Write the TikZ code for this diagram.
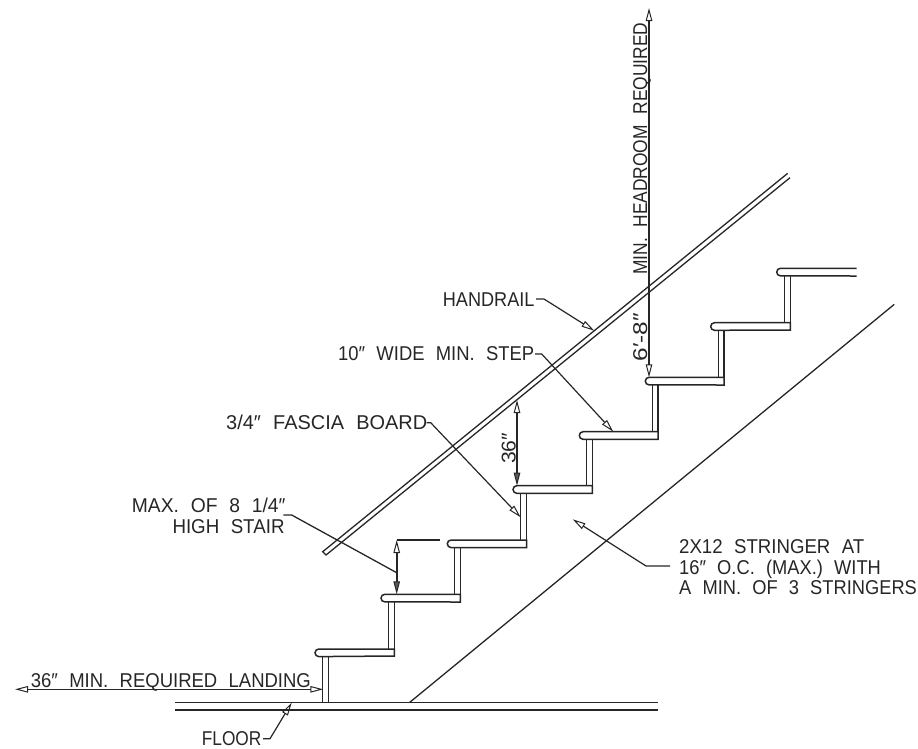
\documentclass[tikz,border=0pt]{standalone}
\usepackage{graphicx}
\usepackage{fontspec}
\setmainfont[WordSpace=2.2]{Liberation Sans}
\usetikzlibrary{arrows.meta}
\newcommand\fitw[2]{\resizebox{#1pt}{\height}{#2}}
% tread: left x, top y, right x, bottom y
\newcommand\tread[4]{\draw[stair] (#3,#2) -- ({#1+3.8},#2) arc[start angle=-90,end angle=-270,radius=3.8] -- (#3,#4) -- cycle;}
% riser: left x, right x, upper y, lower y
\newcommand\riser[4]{\draw[stair] (#1,#3) -- (#1,#4) (#2,#3) -- (#2,#4);}
\tikzset{
  stair/.style={line width=1.5pt,draw=black!85},
  lbl/.style={inner sep=0pt,anchor=base west,font=\fontsize{20}{20}\selectfont,text=black!85},
  leader/.style={line width=1.2pt,draw=black!85,-{Triangle[open,length=13pt,width=6.5pt,line width=1pt]}},
  dimline/.style={line width=1.5pt,draw=black!85,{Triangle[open,length=13pt,width=6.5pt,line width=1pt]}-{Triangle[open,length=13pt,width=6.5pt,line width=1pt]}},
  dimfill/.style={line width=1.6pt,draw=black!85,{Triangle[open,length=13pt,width=6.5pt,line width=1pt]}-{Triangle[length=13pt,width=6.5pt,line width=1pt,fill=black!65]}},
  thin/.style={line width=1.3pt,draw=black!85}
}
\begin{document}
\begin{tikzpicture}[x=1pt,y=-1pt]
\useasboundingbox (0,0) rectangle (918,748);
% floor
\draw[stair] (175,702.7) -- (658,702.7) (175,710) -- (658,710);
% treads
\tread{315}{649}{394.3}{656}
\tread{381}{594.3}{460.3}{602}
\tread{447.3}{540}{526.5}{547.7}
\tread{513}{485.7}{592.3}{493.3}
\tread{579.3}{431.7}{658}{439.3}
\tread{645.3}{377.3}{724}{385}
\tread{710.7}{322.7}{790.3}{330}
\draw[stair] (856.7,268.3) -- (780.5,268.3) arc[start angle=-90,end angle=-270,radius=3.8] -- (856.7,276);
% risers
\riser{322.7}{328.3}{656}{702.7}
\riser{388.7}{394.3}{602}{649}
\riser{454.7}{460.3}{547.7}{594.3}
\riser{520.5}{526.5}{493.3}{540}
\riser{586.7}{592.3}{439.3}{485.7}
\riser{652.3}{658}{385}{431.7}
\riser{718.3}{724}{330}{377.3}
\riser{784.3}{790.3}{276}{322.7}
% handrail
\draw[thin] (787.7,173.3) -- (322.7,551.7) -- (326,555) -- (790,177.7);
% stringer
\draw[thin] (409.3,702.7) -- (894.3,304.3);
% labels
\node[lbl] (landing) at (30.7,687.3) {\fitw{280}{36″ MIN. REQUIRED LANDING}};
\node[lbl] (floor) at (201.7,745.5) {\fitw{59.5}{FLOOR}};
\node[lbl] (maxa) at (131.7,512.7) {\fitw{153.5}{MAX. OF 8 1/4″}};
\node[lbl] (maxb) at (172.3,533.3) {\fitw{112}{HIGH STAIR}};
\node[lbl] (fascia) at (226,429.3) {\fitw{201}{3/4″ FASCIA BOARD}};
\node[lbl] (step) at (338,360.7) {\fitw{196}{10″ WIDE MIN. STEP}};
\node[lbl] (rail) at (442.7,306.7) {\fitw{91.6}{HANDRAIL}};
\node[lbl] (stra) at (679,553.3) {\fitw{185}{2X12 STRINGER AT}};
\node[lbl] (strb) at (679,574) {\fitw{201.7}{16″ O.C. (MAX.) WITH}};
\node[lbl] (strc) at (679,594) {\fitw{237.7}{A MIN. OF 3 STRINGERS}};
\node[lbl,rotate=90] (head) at (647,275) {\fitw{252}{MIN. HEADROOM REQUIRED}};
\node[lbl,rotate=90] (clear) at (647,361.7) {\fitw{48.4}{6′-8″}};
\node[lbl,rotate=90] (high) at (515.5,464) {\fitw{31}{36″}};
% connector coordinates
\coordinate (landL) at (15,689.3);
\coordinate (landR) at (323.3,689.3);
\coordinate (floorS) at (263,738.7);
\coordinate (floorB) at (270,738.7);
\coordinate (floorT) at (291.7,702.7);
\coordinate (maxS) at (283.3,515);
\coordinate (maxB) at (291.7,515);
\coordinate (maxE) at (396.7,572.7);
\coordinate (dimT) at (396.7,540);
\coordinate (dimB) at (396.7,594.3);
\coordinate (dimX) at (440,540);
\coordinate (railS) at (536,299);
\coordinate (railB) at (544,299);
\coordinate (railT) at (594.3,330.7);
\coordinate (stepS) at (535,354);
\coordinate (stepB) at (541.7,354);
\coordinate (stepT) at (613.3,431.7);
\coordinate (fasS) at (426.7,422.7);
\coordinate (fasB) at (430.7,422.7);
\coordinate (fasT) at (520.7,517.3);
\coordinate (hiT) at (517,400);
\coordinate (hiB) at (517,485.7);
\coordinate (headT) at (649,8);
\coordinate (headB) at (649,377.3);
\coordinate (strS) at (670,566);
\coordinate (strB) at (646,566);
\coordinate (strT) at (572.7,519.3);
% connectors
\draw[dimline] (landL) -- (landR);
\draw[leader] (floorS) -- (floorB) -- (floorT);
\draw[thin] (maxS) -- (maxB) -- (maxE);
\draw[dimfill] (dimT) -- (dimB);
\draw[thin] (dimT) -- (dimX);
\draw[leader] (railS) -- (railB) -- (railT);
\draw[leader] (stepS) -- (stepB) -- (stepT);
\draw[leader] (fasS) -- (fasB) -- (fasT);
\draw[dimfill] (hiT) -- (hiB);
\draw[dimline] (headT) -- (headB);
\draw[leader] (strS) -- (strB) -- (strT);
\end{tikzpicture}
\end{document}
